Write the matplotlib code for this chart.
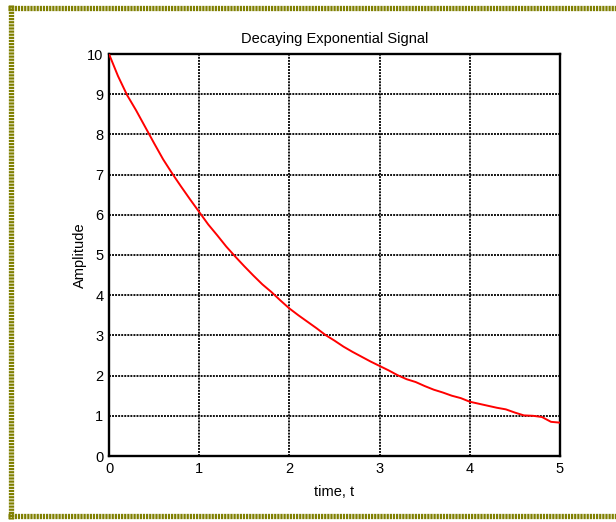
import matplotlib
matplotlib.use("Agg")
import matplotlib.pyplot as plt
from matplotlib.lines import Line2D

plt.rcParams['font.family'] = ['Liberation Sans', 'DejaVu Sans']
plt.rcParams['lines.scale_dashes'] = False

t = [0.0, 0.1, 0.2, 0.3, 0.4, 0.5, 0.6, 0.7, 0.8, 0.9,
     1.0, 1.1, 1.2, 1.3, 1.4, 1.5, 1.6, 1.7, 1.8, 1.9,
     2.0, 2.1, 2.2, 2.3, 2.4, 2.5, 2.6, 2.7, 2.8, 2.9,
     3.0, 3.1, 3.2, 3.3, 3.4, 3.5, 3.6, 3.7, 3.8, 3.9,
     4.0, 4.1, 4.2, 4.3, 4.4, 4.5, 4.6, 4.7, 4.8, 4.9, 5.0]
amplitude = [10.0, 9.45, 8.98, 8.60, 8.19, 7.78, 7.38, 7.03, 6.70, 6.38,
             6.07, 5.76, 5.49, 5.21, 4.96, 4.72, 4.49, 4.27, 4.08, 3.87,
             3.67, 3.50, 3.34, 3.18, 3.01, 2.87, 2.72, 2.59, 2.47, 2.35,
             2.24, 2.13, 2.01, 1.91, 1.84, 1.74, 1.65, 1.58, 1.50, 1.44,
             1.35, 1.30, 1.25, 1.20, 1.16, 1.08, 1.01, 1.00, 0.97, 0.85, 0.83]
xticks = [0, 1, 2, 3, 4, 5]
yticks = [0, 1, 2, 3, 4, 5, 6, 7, 8, 9, 10]

W, H = 616, 522
fs = 10.5
fig = plt.figure(figsize=(W / 100, H / 100), dpi=100)
ax = fig.add_axes([109 / W, 1 - 456 / H, (560 - 109) / W, (456 - 54) / H])

ax.plot(t, amplitude, color='#ff0000', lw=1.4, zorder=3)
ax.set_xlim(0, 5)
ax.set_ylim(0, 10)
ax.set_xticks(xticks)
ax.set_yticks(yticks)
ax.grid(True, color='black', linestyle=(0, (1.4, 0.8)), lw=1.3)
ax.tick_params(direction='in', length=0, labelsize=fs, pad=4, colors='black')
for s in ax.spines.values():
    s.set_linewidth(1.7)
    s.set_color('black')
ax.set_title('Decaying Exponential Signal', fontsize=fs, pad=8)
ax.set_xlabel('time, t', fontsize=fs, labelpad=7)
ax.set_ylabel('Amplitude', fontsize=fs, labelpad=0)

# dashed olive frame
def px(x, y):
    return (x / W, 1 - y / H)

olive = '#7f7f00'
dash = (0, (1.6, 0.65))
lw = 3.8
for (x0, y0), (x1, y1) in [((11, 5), (11, 519)), ((8, 7.5), (616, 7.5)), ((8, 516), (616, 516))]:
    a = px(x0, y0); b = px(x1, y1)
    fig.add_artist(Line2D([a[0], b[0]], [a[1], b[1]], transform=fig.transFigure,
                          color=olive, lw=lw, linestyle=dash, solid_capstyle='butt',
                          dash_capstyle='butt'))

fig.savefig('out.png', dpi=100)
